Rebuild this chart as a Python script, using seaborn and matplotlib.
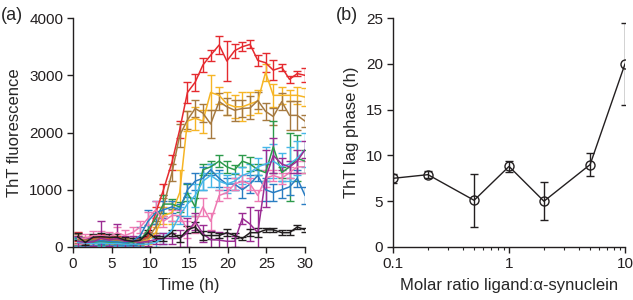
import numpy as np
import pandas as pd
import seaborn as sns
import matplotlib.pyplot as plt

# --- panel (a): ThT kinetics ---
times = [0.6, 1.6, 2.6, 3.6, 4.7, 5.7, 6.7, 7.7, 8.7, 9.7, 10.7, 11.7, 12.8, 13.8, 14.8,
         15.8, 16.8, 17.8, 18.9, 19.9, 20.9, 21.9, 22.9, 23.9, 24.9, 25.9, 27.0, 28.0, 29.0, 30.0]

red = [180, 100, 150, 170, 140, 130, 110, 100, 110, 180, 600, 1000, 1480, 2050, 2700,
       2880, 3180, 3350, 3530, 3250, 3430, 3500, 3540, 3260, 3220, 3090, 3140, 2930, 3030, 3000]
red_err = [80, 60, 60, 60, 60, 60, 50, 50, 50, 80, 100, 100, 130, 150, 180,
           150, 120, 100, 160, 350, 120, 80, 70, 100, 170, 180, 60, 60, 50, 120]

yellow = [120, 110, 100, 130, 110, 100, 90, 80, 90, 120, 250, 550, 600, 950, 2200,
          2250, 2200, 2700, 2650, 2500, 2450, 2450, 2500, 2550, 3050, 2650, 2650, 2650, 2650, 2620]
yellow_err = [80, 60, 60, 60, 60, 60, 50, 50, 50, 60, 100, 150, 200, 400, 180,
              200, 200, 300, 150, 200, 200, 250, 200, 200, 150, 200, 150, 100, 150, 150]

brown = [150, 120, 130, 150, 130, 120, 110, 100, 110, 150, 350, 700, 1300, 1950, 2220,
         2420, 2340, 2150, 2540, 2450, 2390, 2420, 2430, 2560, 2370, 2280, 2540, 2300, 2300, 2200]
brown_err = [80, 60, 60, 60, 60, 60, 50, 50, 50, 60, 100, 150, 150, 200, 150,
             150, 150, 250, 150, 150, 180, 150, 200, 150, 150, 150, 150, 250, 250, 100]

green = [100, 90, 80, 90, 80, 80, 70, 80, 120, 300, 500, 750, 750, 700, 950,
         700, 1350, 1400, 1500, 1400, 1350, 1500, 1450, 1350, 1300, 1750, 1300, 1400, 1550, 1500]
green_err = [60, 50, 50, 50, 50, 50, 50, 50, 60, 80, 100, 150, 80, 80, 150,
             150, 100, 100, 100, 100, 80, 100, 120, 100, 150, 450, 100, 600, 400, 200]

blue = [100, 90, 100, 110, 100, 90, 80, 100, 200, 450, 600, 650, 700, 650, 1000,
        1150, 1200, 1350, 1200, 1100, 1100, 1000, 1100, 1250, 1000, 950, 1000, 1050, 1200, 900]
blue_err = [80, 60, 60, 60, 60, 50, 50, 60, 150, 200, 200, 150, 100, 100, 120,
            150, 200, 100, 150, 100, 100, 150, 150, 100, 200, 150, 150, 150, 150, 150]

cyan = [80, 70, 60, 70, 60, 60, 50, 50, 50, 50, 80, 150, 300, 550, 750,
        900, 1150, 1250, 1150, 1100, 1150, 1250, 1300, 1400, 1450, 1500, 1400, 1450, 1550, 1700]
cyan_err = [60, 50, 50, 50, 50, 50, 40, 40, 40, 60, 80, 100, 150, 150, 200,
            200, 150, 200, 150, 150, 150, 150, 150, 150, 300, 300, 250, 300, 300, 300]

pink = [150, 150, 200, 200, 180, 250, 200, 250, 350, 500, 650, 450, 550, 550, 300,
        400, 700, 450, 900, 950, 1100, 1150, 1100, 900, 1200, 1250, 1200, 1300, 1400, 1400]
pink_err = [100, 80, 80, 80, 80, 100, 100, 100, 100, 120, 150, 100, 100, 100, 150,
            150, 150, 150, 100, 100, 100, 100, 100, 100, 150, 100, 100, 100, 100, 100]

magenta = [100, 80, 90, 150, 120, 150, 100, 100, 80, 100, 130, 150, 150, 150, 250,
           450, 230, 130, 120, 100, 100, 500, 400, 250, 1200, 1600, 1450, 1400, 1500, 1700]
magenta_err = [100, 80, 80, 300, 100, 250, 100, 100, 80, 80, 80, 100, 100, 150, 250,
               150, 150, 150, 150, 150, 100, 100, 300, 400, 500, 300, 100, 100, 200, 150]

black = [180, 80, 170, 180, 170, 170, 120, 100, 120, 250, 150, 150, 250, 150, 300,
         350, 200, 200, 200, 250, 200, 150, 250, 250, 300, 300, 250, 250, 350, 300]
black_err = [60, 50, 50, 60, 60, 60, 50, 50, 50, 50, 50, 50, 50, 60, 60,
             80, 80, 60, 50, 60, 50, 30, 60, 80, 40, 40, 40, 40, 40, 40]

series = {
    "red": (red, red_err, "#E52A2F"),
    "yellow": (yellow, yellow_err, "#F6B525"),
    "brown": (brown, brown_err, "#A67A40"),
    "green": (green, green_err, "#2C9A4B"),
    "blue": (blue, blue_err, "#2A7DC2"),
    "cyan": (cyan, cyan_err, "#45B7E8"),
    "pink": (pink, pink_err, "#EE7AB3"),
    "magenta": (magenta, magenta_err, "#9B2C93"),
    "black": (black, black_err, "#231F20"),
}

# --- panel (b): lag phase ---
ratio = [0.1, 0.2, 0.5, 1, 2, 5, 10]
lag = [7.5, 7.9, 5.1, 8.8, 5.0, 9.0, 20.0]
lag_err = [0.5, 0.35, 2.9, 0.6, 2.1, 1.3, 4.5]

sns.set_style("ticks")
plt.rcParams["font.family"] = ["Liberation Sans", "DejaVu Sans"]
plt.rcParams["font.size"] = 11.5

fig = plt.figure(figsize=(6.33, 3.0), dpi=100)
ax1 = fig.add_axes([0.1153, 0.1767, 0.3665, 0.763])
ax2 = fig.add_axes([0.6209, 0.1767, 0.3665, 0.763])

rows = []
for name, (vals, errs, col) in series.items():
    for t, v in zip(times, vals):
        rows.append({"time": t, "value": v, "series": name})
df = pd.DataFrame(rows)
palette = {name: s[2] for name, s in series.items()}

for name, (vals, errs, col) in series.items():
    ax1.errorbar(times, vals, yerr=errs, fmt="none", ecolor=col, elinewidth=1.0,
                 capsize=3, capthick=1.0)
sns.lineplot(data=df, x="time", y="value", hue="series", palette=palette,
             linewidth=1.1, legend=False, ax=ax1, estimator=None, sort=False)

ax1.set_xlim(0, 30)
ax1.set_ylim(0, 4000)
ax1.set_xticks([0, 5, 10, 15, 20, 25, 30])
ax1.set_yticks([0, 1000, 2000, 3000, 4000])
ax1.set_xlabel("Time (h)", fontsize=12, labelpad=5)
ax1.set_ylabel("ThT fluorescence", fontsize=12, labelpad=5)

ax2.errorbar(ratio, lag, yerr=lag_err, fmt="none", ecolor="#231F20",
             elinewidth=1.0, capsize=3, capthick=1.0)
sns.lineplot(x=ratio, y=lag, color="#231F20", linewidth=1.0, marker="o",
             markersize=6.5, markerfacecolor="none", markeredgecolor="#231F20",
             markeredgewidth=1.0, ax=ax2, estimator=None)
ax2.set_xscale("log")
ax2.set_xlim(0.1, 10)
ax2.set_ylim(0, 25)
ax2.set_xticks([0.1, 1, 10])
ax2.set_xticklabels(["0.1", "1", "10"])
ax2.set_yticks([0, 5, 10, 15, 20, 25])
ax2.set_xlabel("Molar ratio ligand:α-synuclein", fontsize=12, labelpad=5)
ax2.set_ylabel("ThT lag phase (h)", fontsize=12, labelpad=5)

for ax in (ax1, ax2):
    sns.despine(ax=ax)
    for sp in ("left", "bottom"):
        ax.spines[sp].set_linewidth(1.0)
        ax.spines[sp].set_color("#231F20")
    ax.tick_params(direction="out", length=4, width=1.0, colors="#231F20",
                   labelsize=11, pad=3)
    ax.tick_params(which="minor", direction="out", length=2.5, width=0.8)

fig.text(0.002, 0.975, "(a)", fontsize=13, va="top", ha="left")
fig.text(0.531, 0.975, "(b)", fontsize=13, va="top", ha="left")

fig.savefig("out.png", dpi=100)
